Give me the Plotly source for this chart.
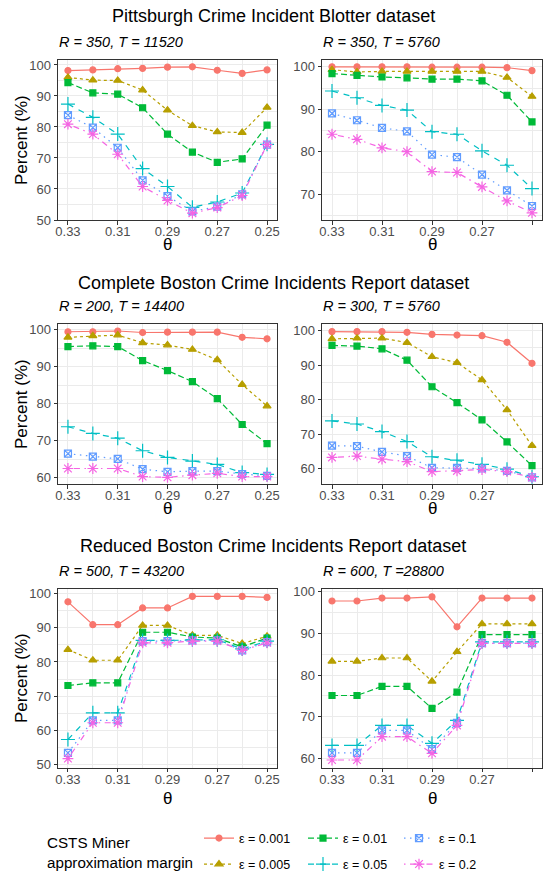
import plotly.graph_objects as go
from plotly.subplots import make_subplots

# ---------------- data ----------------
theta = [0.33, 0.32, 0.31, 0.30, 0.29, 0.28, 0.27, 0.26, 0.25]
eps_labels = ["ε = 0.001", "ε = 0.005", "ε = 0.01", "ε = 0.05", "ε = 0.1", "ε = 0.2"]

row_titles = [
    "Pittsburgh Crime Incident Blotter dataset",
    "Complete Boston Crime Incidents Report dataset",
    "Reduced Boston Crime Incidents Report dataset",
]
panel_titles = [
    "R = 350, T = 11520", "R = 350, T = 5760",
    "R = 200, T = 14400", "R = 300, T = 5760",
    "R = 500, T = 43200", "R = 600, T =28800",
]

# each panel: one list per epsilon (0.001, 0.005, 0.01, 0.05, 0.1, 0.2)
pitt_r350_t11520 = [
    [98.2, 98.4, 98.8, 98.9, 99.3, 99.4, 98.3, 97.3, 98.4],
    [96.0, 95.1, 95.0, 91.9, 85.4, 80.4, 78.4, 78.2, 86.3],
    [94.3, 91.0, 90.6, 86.2, 77.7, 71.9, 68.6, 69.7, 80.6],
    [87.4, 83.1, 77.7, 66.6, 60.8, 54.1, 55.8, 58.7, 74.4],
    [83.8, 79.8, 73.3, 62.8, 57.7, 52.8, 54.3, 58.3, 74.3],
    [80.9, 77.7, 71.2, 60.8, 56.3, 52.2, 54.0, 57.9, 74.3],
]
pitt_r350_t5760 = [
    [100.0, 100.0, 100.0, 100.0, 99.9, 99.9, 99.9, 99.8, 99.1],
    [99.3, 98.8, 98.9, 98.9, 98.9, 98.9, 98.9, 97.5, 93.0],
    [98.4, 98.0, 97.6, 97.4, 97.1, 97.1, 96.7, 93.3, 87.0],
    [94.3, 92.7, 90.9, 89.8, 84.7, 84.1, 80.2, 76.8, 71.3],
    [89.0, 87.4, 85.6, 84.8, 79.3, 78.7, 74.6, 70.9, 67.2],
    [84.1, 82.9, 80.9, 80.0, 75.3, 75.1, 71.7, 68.4, 65.6],
]
cbos_r200_t14400 = [
    [99.5, 99.5, 99.7, 99.3, 99.4, 99.4, 99.4, 98.0, 97.6],
    [98.0, 98.4, 98.6, 96.5, 95.9, 94.7, 91.9, 85.2, 79.4],
    [95.5, 95.7, 95.5, 91.7, 89.0, 86.0, 81.4, 74.4, 69.2],
    [73.8, 72.0, 70.7, 67.3, 65.5, 64.5, 63.6, 61.4, 60.9],
    [66.5, 65.7, 65.1, 62.3, 61.6, 61.8, 61.8, 61.0, 60.5],
    [62.5, 62.5, 62.5, 60.3, 60.1, 60.7, 61.2, 60.3, 60.3],
]
cbos_r300_t5760 = [
    [99.7, 99.7, 99.7, 99.5, 98.9, 98.7, 98.5, 96.6, 90.5],
    [97.6, 97.8, 97.8, 96.5, 92.4, 90.7, 85.7, 77.0, 66.6],
    [95.7, 95.5, 94.7, 91.4, 83.7, 79.1, 74.1, 67.7, 60.8],
    [73.8, 72.9, 70.7, 67.8, 63.4, 62.4, 61.2, 59.8, 57.6],
    [66.6, 66.5, 64.8, 63.6, 60.2, 60.2, 60.0, 59.3, 57.4],
    [63.2, 63.6, 62.7, 62.0, 59.1, 59.3, 59.7, 59.1, 57.4],
]
rbos_r500_t43200 = [
    [97.6, 90.9, 90.9, 95.8, 95.8, 99.2, 99.2, 99.2, 98.9],
    [83.6, 80.5, 80.5, 90.7, 90.7, 87.8, 87.8, 85.4, 87.5],
    [73.1, 73.9, 73.9, 88.7, 88.7, 87.3, 87.0, 84.4, 87.0],
    [57.3, 65.1, 65.1, 86.3, 86.3, 86.5, 86.5, 83.8, 86.1],
    [53.4, 62.9, 62.9, 86.1, 86.1, 86.3, 86.3, 83.4, 85.8],
    [51.7, 62.2, 62.2, 85.6, 85.6, 86.1, 86.1, 83.4, 85.6],
]
rbos_r600_t28800 = [
    [97.8, 97.8, 98.5, 98.5, 98.8, 91.6, 98.5, 98.5, 98.5],
    [83.3, 83.3, 84.1, 84.1, 78.5, 85.6, 92.3, 92.3, 92.3],
    [75.1, 75.1, 77.3, 77.3, 72.0, 75.9, 89.7, 89.7, 89.7],
    [63.1, 63.1, 67.9, 67.9, 63.6, 69.1, 88.0, 88.0, 88.0],
    [61.3, 61.3, 66.7, 66.7, 62.2, 68.5, 87.7, 87.7, 87.7],
    [59.6, 59.6, 65.2, 65.2, 61.2, 67.9, 87.6, 87.6, 87.6],
]
panels = [pitt_r350_t11520, pitt_r350_t5760, cbos_r200_t14400,
          cbos_r300_t5760, rbos_r500_t43200, rbos_r600_t28800]

x_ticks = [0.33, 0.31, 0.29, 0.27, 0.25]
y_ranges = [[50.0, 101.6], [63.9, 101.6], [58.3, 101.6],
            [55.5, 101.9], [49.1, 101.5], [57.8, 100.8]]

# ---------------- style ----------------
W, H = 543, 871          # reference frame used for relative placement
FONT = "Liberation Sans, Arial, sans-serif"
colors = ["#F8766D", "#B79F00", "#00BA38", "#00BFC4", "#619CFF", "#F564E3"]
symbols = ["circle", "triangle-up", "square", "cross-thin-open", "square-x-open", "asterisk-open"]
msizes = [6, 7, 6, 10, 7, 9]
dashes = ["solid", "3px,3px", "6px,3px", "6px,6px", "1.5px,4.5px", "1.5px,4.5px,6px,4.5px"]
legend_ids = ["legend", "legend", "legend2", "legend2", "legend3", "legend3"]

col_px = [(58, 277), (322, 542)]
row_px = [(60, 220), (324, 484), (588.5, 767.5)]
row_title_y = [16, 283, 546]
subtitle_y = [42, 306, 571]
theta_y = [244, 508, 798]


def fx(p):
    return p / W


def fy(p):
    return 1 - p / H


fig = make_subplots(rows=3, cols=2)

for i, pdata in enumerate(panels):
    r, c = i // 2 + 1, i % 2 + 1
    for k, vals in enumerate(pdata):
        fig.add_trace(go.Scatter(
            x=theta, y=vals, mode="lines+markers", name=eps_labels[k],
            line=dict(color=colors[k], width=1.2, dash=dashes[k]),
            marker=dict(color=colors[k], symbol=symbols[k], size=msizes[k],
                        line=dict(color=colors[k], width=1.2)),
            legend=legend_ids[k], legendgroup="g%d" % k,
            showlegend=(i == 0), cliponaxis=False,
        ), row=r, col=c)

axis_common = dict(
    showline=True, mirror=True, linecolor="#333333", linewidth=1,
    showgrid=True, gridcolor="#EBEBEB", gridwidth=1, zeroline=False,
    ticks="outside", ticklen=3.5, tickcolor="#333333", tickwidth=1,
    tickfont=dict(family=FONT, size=13, color="#4D4D4D"),
)

for i in range(6):
    r, c = i // 2, i % 2
    xa = "xaxis" if i == 0 else "xaxis%d" % (i + 1)
    ya = "yaxis" if i == 0 else "yaxis%d" % (i + 1)
    x0, x1 = col_px[c]
    y0, y1 = row_px[r]
    fig.layout[xa].update(
        domain=[fx(x0), fx(x1)], range=[0.334, 0.246],
        tickvals=x_ticks, ticktext=["%.2f" % v for v in x_ticks],
        ticklabelstandoff=-4,
        minor=dict(dtick=0.01, tick0=0.25, showgrid=True, gridcolor="#EBEBEB",
                   gridwidth=0.6, ticks=""),
        **axis_common)
    fig.layout[ya].update(
        domain=[fy(y1), fy(y0)], range=y_ranges[i], dtick=10, tick0=0,
        minor=dict(dtick=5, tick0=0, showgrid=True, gridcolor="#EBEBEB",
                   gridwidth=0.6, ticks=""),
        **axis_common)

ann = []
for r in range(3):
    ann.append(dict(text=row_titles[r], x=0.503, y=fy(row_title_y[r]), xref="paper",
                    yref="paper", showarrow=False, xanchor="center", yanchor="middle",
                    font=dict(family=FONT, size=18, color="black")))
    for c in range(2):
        i = r * 2 + c
        x0, x1 = col_px[c]
        y0, y1 = row_px[r]
        ann.append(dict(text="<i>%s</i>" % panel_titles[i], x=fx(x0 - 1), y=fy(subtitle_y[r]),
                        xref="paper", yref="paper", showarrow=False, xanchor="left",
                        yanchor="middle", font=dict(family=FONT, size=14.5, color="black")))
        ann.append(dict(text="θ", x=fx((x0 + x1) / 2), y=fy(theta_y[r]), xref="paper",
                        yref="paper", showarrow=False, xanchor="center", yanchor="middle",
                        font=dict(family=FONT, size=17, color="black")))
        if c == 0:
            ann.append(dict(text="Percent (%)", x=fx(21), y=fy((y0 + y1) / 2), xref="paper",
                            yref="paper", showarrow=False, textangle=-90, xanchor="center",
                            yanchor="middle", font=dict(family=FONT, size=17, color="black")))

ann.append(dict(text="CSTS Miner<br>approximation margin", x=fx(45), y=fy(852.5),
                xref="paper", yref="paper", showarrow=False, xanchor="left",
                yanchor="middle", align="left",
                font=dict(family=FONT, size=15.2, color="black")))

leg_common = dict(orientation="v", xanchor="left", yanchor="top",
                  bgcolor="rgba(0,0,0,0)", borderwidth=0, tracegroupgap=6.75,
                  itemwidth=30, font=dict(family=FONT, size=12.5, color="black"))

fig.update_layout(
    autosize=True, margin=dict(l=0, r=0, t=0, b=0, autoexpand=False),
    paper_bgcolor="white", plot_bgcolor="white",
    annotations=ann,
    legend=dict(x=fx(199), y=fy(823.4), **leg_common),
    legend2=dict(x=fx(303), y=fy(823.4), **leg_common),
    legend3=dict(x=fx(399), y=fy(823.4), **leg_common),
)

fig.write_html(
    "out.html", config={"displayModeBar": False},
    default_width="543px", default_height="100vh",
    post_script=(
        "var de=document.documentElement, bd=document.body;"
        "[de, bd].forEach(function(e){e.style.margin='0';e.style.padding='0';"
        "e.style.overflow='hidden';});"
        "var gd=document.getElementById('{plot_id}');"
        "gd.style.overflow='hidden';"
        "gd.querySelectorAll('.svg-container, .main-svg').forEach(function(e){e.style.overflow='hidden';});"
    ))
